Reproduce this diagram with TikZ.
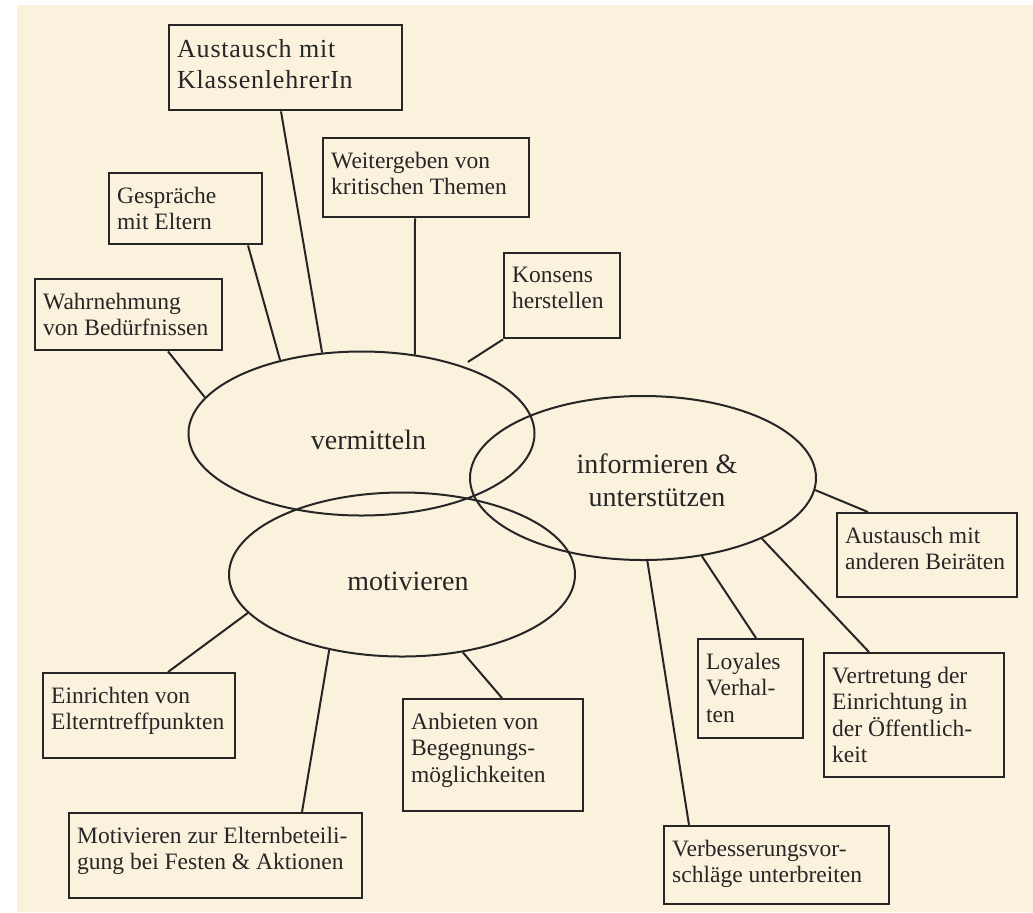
\documentclass[tikz,border=0pt]{standalone}
\usepackage{fontspec}
\setmainfont{Liberation Serif}
\newfontfamily\spacedfont[LetterSpace=3]{Liberation Serif}
\usepackage{xcolor}
\usetikzlibrary{shapes.geometric}
\definecolor{paper}{RGB}{250,242,221}
\definecolor{ink}{RGB}{38,38,38}
% box text: width, height of the whole box, text
\newcommand{\boxtext}[3]{\parbox[c][\dimexpr#2-14pt\relax][t]{\dimexpr#1-8pt\relax}{\raggedright #3}}

\begin{document}
\begin{tikzpicture}[x=0.5pt, y=-0.5pt,
        item/.style={draw=ink, line width=1.2pt, anchor=north west, inner xsep=4pt, inner ysep=7pt, text=ink, font=\fontsize{11.75pt}{13.2pt}\selectfont},
        topic/.style={draw=ink, line width=1pt, ellipse, minimum width=173pt, minimum height=82pt, inner sep=0pt},
        topictext/.style={align=center, text=ink, font=\fontsize{14pt}{16.5pt}\selectfont},
        link/.style={draw=ink, line width=1pt}]
        % Page
        \useasboundingbox (0,0) rectangle (1033,912);
        \fill[paper] (17,5) rectangle (1033,912);

        % Ellipses
        \node[topic] (ve) at (361.5,433.5) {};
        \node[topic] (in) at (643,478) {};
        \node[topic] (mv) at (402,574.5) {};
        \node[topictext, anchor=base] (ve-t) at ([xshift=3.5pt, yshift=-7.75pt]ve.center) {vermitteln};
        \node[topictext] (in-t) at ([xshift=7pt, yshift=-1pt]in.center) {informieren \&\\unterstützen};
        \node[topictext, anchor=base] (mv-t) at ([xshift=3pt, yshift=-7.75pt]mv.center) {motivieren};

        % Boxes round vermitteln
        \node[item, font=\fontsize{13pt}{15.5pt}\spacedfont] (kl) at (168,24) {\boxtext{116.5pt}{42.5pt}{Austausch mit\\KlassenlehrerIn}};
        \node[item] (ge) at (108,172) {\boxtext{76.5pt}{35.5pt}{Gespräche\\mit Eltern}};
        \node[item] (wa) at (34,278) {\boxtext{93.5pt}{35.5pt}{Wahrnehmung\\von Bedürfnissen}};
        \node[item] (we) at (322,137) {\boxtext{103pt}{39.5pt}{Weitergeben von\\kritischen Themen}};
        \node[item] (ko) at (503,252) {\boxtext{58pt}{42.5pt}{Konsens\\herstellen}};

        % Boxes round motivieren
        \node[item] (ei) at (42,672) {\boxtext{96pt}{42.5pt}{Einrichten von\\Elterntreffpunkten}};
        \node[item] (mo) at (68,812) {\boxtext{146.5pt}{42.5pt}{Motivieren zur Elternbeteili-\\gung bei Festen \& Aktionen}};
        \node[item] (an) at (402,698) {\boxtext{90pt}{56pt}{Anbieten von\\Begegnungs-\\möglichkeiten}};

        % Boxes round informieren
        \node[item] (ab) at (836,512) {\boxtext{90pt}{42pt}{Austausch mit\\anderen Beiräten}};
        \node[item] (lo) at (697,638) {\boxtext{52.5pt}{49.5pt}{Loyales\\Verhal-\\ten}};
        \node[item] (vt) at (823,652) {\boxtext{90pt}{62pt}{Vertretung der\\Einrichtung in\\der Öffentlich-\\keit}};
        \node[item] (vb) at (663,825) {\boxtext{112.5pt}{39pt}{Verbesserungsvor-\\schläge unterbreiten}};

        % Links
        \draw[link] ([xshift=56.5pt]kl.south west) -- (ve.116);
        \draw[link] ([xshift=70pt]ge.south west) -- (ve.138);
        \draw[link] ([xshift=67pt]wa.south west) -- (ve.167);
        \draw[link] ([xshift=46.5pt]we.south west) -- (ve.56);
        \draw[link, shorten >=3.5pt] (ko.south west) -- (ve.34);
        \draw[link] ([xshift=63pt]ei.north west) -- (mv.194);
        \draw[link] ([xshift=117pt]mo.north west) -- (mv.226);
        \draw[link] ([xshift=50pt]an.north west) -- (mv.308);
        \draw[link] ([xshift=16pt]ab.north west) -- (in.356);
        \draw[link] ([xshift=29.5pt]lo.north west) -- (in.307);
        \draw[link] ([xshift=23pt]vt.north west) -- (in.333);
        \draw[link] ([xshift=13pt]vb.north west) -- (in.273);
\end{tikzpicture}
\end{document}
